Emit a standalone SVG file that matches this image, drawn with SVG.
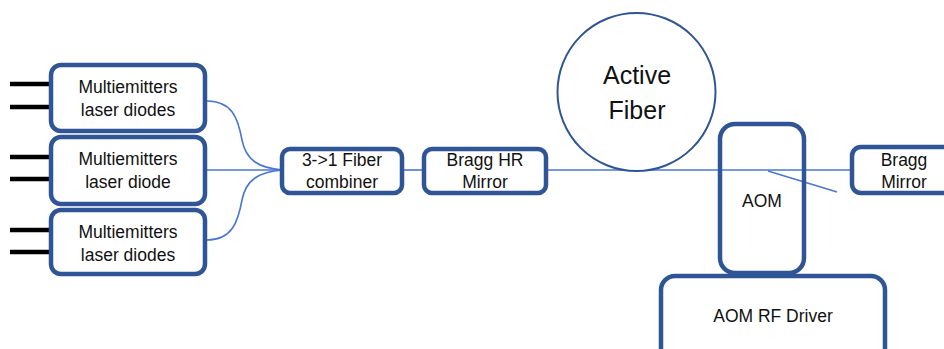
<svg xmlns="http://www.w3.org/2000/svg" width="944" height="349" viewBox="0 0 944 349">
<style>
.box{fill:#fff;stroke:#2F5597;stroke-width:4.5}
.fib{fill:none;stroke:#4A78CF;stroke-width:1.6}
.lead{stroke:#000;stroke-width:4.5}
text{font-family:"Liberation Sans",Arial,sans-serif;font-size:17.5px;fill:#111;text-anchor:middle}
.big{font-size:25px}
</style>
<rect width="944" height="349" fill="#fff"/>
<g id="connectors">
<path class="fib" d="M207,101 C232,101 238,118 242,140 C246,160 258,168 283,170"/>
<path class="fib" d="M207,170 L283,170"/>
<path class="fib" d="M207,240 C232,240 238,222 242,200 C246,180 258,172 283,170"/>
<path class="fib" d="M402,170 L425,170"/>
<path class="fib" d="M546,170 L852,170"/>
<path class="fib" d="M768,171 L837,192"/>
</g>
<g id="ld1">
<line class="lead" x1="10" y1="84" x2="51" y2="84"/>
<line class="lead" x1="10" y1="107" x2="51" y2="107"/>
<rect class="box" x="51" y="65" width="154" height="66" rx="10"/>
<text x="128" y="93">Multiemitters</text>
<text x="128" y="116">laser diodes</text>
</g>
<g id="ld2">
<line class="lead" x1="10" y1="157" x2="51" y2="157"/>
<line class="lead" x1="10" y1="179" x2="51" y2="179"/>
<rect class="box" x="51" y="137" width="154" height="67" rx="10"/>
<text x="128" y="165">Multiemitters</text>
<text x="128" y="188">laser diode</text>
</g>
<g id="ld3">
<line class="lead" x1="10" y1="230" x2="51" y2="230"/>
<line class="lead" x1="10" y1="252" x2="51" y2="252"/>
<rect class="box" x="51" y="210" width="154" height="64" rx="10"/>
<text x="128" y="238">Multiemitters</text>
<text x="128" y="261">laser diodes</text>
</g>
<g id="combiner">
<rect class="box" x="282" y="149" width="120" height="44" rx="8"/>
<text x="342" y="166">3-&gt;1 Fiber</text>
<text x="342" y="188">combiner</text>
</g>
<g id="bragg-hr">
<rect class="box" x="424" y="149" width="122" height="44" rx="8"/>
<text x="485" y="166">Bragg HR</text>
<text x="485" y="188">Mirror</text>
</g>
<g id="active-fiber">
<circle cx="636.5" cy="92" r="79" fill="#fff" stroke="#2F5597" stroke-width="2"/>
<text class="big" x="637" y="84">Active</text>
<text class="big" x="637" y="119">Fiber</text>
</g>
<g id="aom-driver">
<rect class="box" x="661" y="276" width="224" height="90" rx="14"/>
<text x="773" y="322">AOM RF Driver</text>
</g>
<g id="aom">
<rect class="box" x="720" y="124" width="84" height="149" rx="15" style="fill:none"/>
<text x="762" y="207">AOM</text>
</g>
<g id="bragg-mirror">
<rect class="box" x="852" y="147" width="110" height="46" rx="9"/>
<text x="904" y="166">Bragg</text>
<text x="904" y="188">Mirror</text>
</g>
</svg>
